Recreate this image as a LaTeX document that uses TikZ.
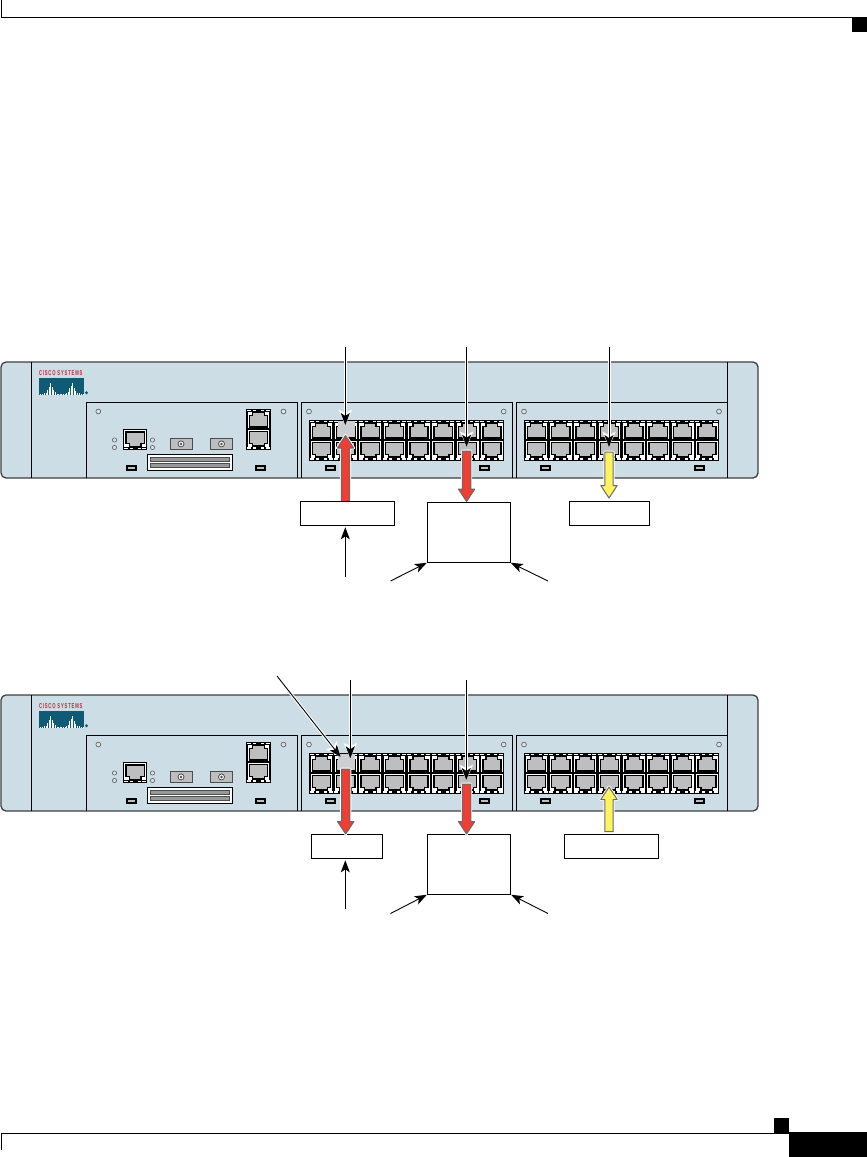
\documentclass[tikz,border=0pt]{standalone}
\usepackage{fontspec}
\usepackage{graphicx}
\setmainfont{Liberation Sans}
\usetikzlibrary{arrows.meta,calc}
\definecolor{devfill}{HTML}{CDDDE5}
\definecolor{portgray}{HTML}{BCBEC0}
\definecolor{portlight}{HTML}{CDCED2}
\definecolor{logoteal}{HTML}{0F5A75}
\definecolor{logored}{HTML}{B5283A}
\definecolor{redarrow}{HTML}{EF3E33}
\definecolor{yelarrow}{HTML}{FFF45F}
\definecolor{edgegray}{HTML}{6A6A6A}
\tikzset{
  devbody/.style={fill=devfill,draw=black!75,line width=1.3pt,rounded corners=5pt},
  modulebox/.style={draw=black,line width=1pt},
  hole/.style={draw=black!60,fill=devfill!80!white,line width=.7pt},
  lbox/.style={draw=black,fill=white,line width=1pt,inner sep=0pt,minimum height=24pt},
  thinarrow/.style={draw=black,line width=.9pt,-{Stealth[length=12pt,width=9pt,inset=3pt]}},
  halo/.style={thinarrow,preaction={draw=white,line width=3pt,-{Stealth[length=15pt,width=13pt,inset=3pt]}}},
  tag/.style={inner sep=0pt,text=logored,font=\fontsize{6.4}{6}\selectfont\bfseries\addfontfeatures{LetterSpace=20}}
}
% fat arrow from #1 to #2 in colour #3
\newcommand{\fatarr}[3]{%
  \coordinate (fb) at ($(#2)!12.5pt!(#1)$);
  \coordinate (sl) at ($(fb)!4.2pt!90:(#2)$);
  \coordinate (sr) at ($(fb)!4.2pt!-90:(#2)$);
  \coordinate (hl) at ($(fb)!8.2pt!90:(#2)$);
  \coordinate (hr) at ($(fb)!8.2pt!-90:(#2)$);
  \coordinate (tl) at ($(#1)!4.2pt!90:(#2)$);
  \coordinate (tr) at ($(#1)!4.2pt!-90:(#2)$);
  \draw[white,line width=2.8pt,line join=round] (tl)--(sl)--(hl)--(#2)--(hr)--(sr)--(tr)--cycle;
  \draw[edgegray,fill=#3,line width=1pt,line join=round] (tl)--(sl)--(hl)--(#2)--(hr)--(sr)--(tr)--cycle;
}
% one RJ45 cell, outer edge at the top of the local frame
\newcommand{\rjcell}{%
  \fill[white] (1.5,2.6) rectangle (23.4,19.4);
  \fill[white] (1,0.9) rectangle (5,2.2);
  \fill[white] (7.2,0.9) rectangle (10.2,2.2);
  \fill[white] (14.9,0.9) rectangle (17.9,2.2);
  \fill[white] (19.7,0.9) rectangle (23.7,2.2);
  \draw[black,line width=1.4pt,fill=portgray]
     (3.4,6.4)--(6.7,6.4)--(6.7,3.6)--(18.3,3.6)--(18.3,6.4)--(21.6,6.4)--(21.6,17.9)--(3.4,17.9)--cycle;
}
\newcommand{\bank}[2]{% x0, y0
  \fill[black] (#1,#2) rectangle ++(194.8,40.6);
  \foreach \i in {0,...,7}{
    \begin{scope}[shift={({#1+\i*24.35},#2)}]\rjcell\end{scope}
    \begin{scope}[shift={({#1+\i*24.35},{#2+40.6})},yscale=-1]\rjcell\end{scope}
  }
}
\newcommand{\indicator}[2]{%
  \fill[black] (#1,#2) rectangle ++(10.7,5.8);
  \fill[portgray] ({#1+1.8},{#2+1.6}) rectangle ++(7.1,2.6);
}
\newcommand{\bnc}[1]{%
  \draw[black!70,fill=portgray,line width=.8pt] (#1,438) rectangle ++(22,11.7);
  \draw[black!70,fill=white,line width=.8pt] ({#1+11},443.9) circle (3);
  \fill[black!70] ({#1+11},443.9) circle (1.4);
}
\newcommand{\device}[2]{% y offset, id
\begin{scope}[shift={(0,#1)}]
  \draw[devbody] (1,362) rectangle (758,478);
  \draw[modulebox] (31.3,362) -- (31.3,478);
  \draw[modulebox] (727.7,362) -- (727.7,478);
  \draw[modulebox] (86.3,478) |- (297.7,402.3) -- (297.7,478);
  \draw[modulebox] (301.3,478) |- (512.7,402.3) -- (512.7,478);
  \draw[modulebox] (516.3,478) |- (727.7,402.3);
  \foreach \p in {98.3,283.5,309,503.7,524,719} \draw[hole] (\p,411.5) circle (2.4);
  \foreach \p in {114.5,152.5} {\draw[hole] (\p,440) circle (2.1); \draw[hole] (\p,447.5) circle (2.1);}
  % logo
  \node[tag,anchor=west] (logo#2) at (38.8,372.8) {\scalebox{.65}[1.1]{CISCO SYSTEMS}};
  \fill[logoteal] (39,377.7) rectangle (84,395);
  \foreach \bx/\bh in {40.5/1,42/1.5,44/2,46/2,47.7/5,49.2/8,50.7/12,52.2/8,53.7/5,55.2/3,57/1.5,58.5/1.5,60/1,61.5/1.5,63.5/1,65/1.5,66.5/2,68/3,69.5/7,71/9,72.5/12,74/7,75.5/4,77/2,79/2,81/1,83/1}
    \fill[white] ({\bx-.5},395) rectangle ({\bx+.5},{395-\bh});
  \fill[logoteal] (86.5,392.7) circle (1.7);
  % module 1
  \fill[black] (122.6,429.2) rectangle (146.9,449.8);
  \begin{scope}[shift={(122.6,449.8)},yscale=-1]\rjcell\end{scope}
  \bnc{170}\bnc{210.5}
  \draw[black,fill=white,line width=1pt] (147.3,454.3) rectangle (232.7,470.7);
  \draw[black!70,fill=portgray!80!black,line width=.6pt] (150.3,457.5) rectangle (229.7,461.5);
  \draw[black!70,fill=portgray!80!black,line width=.6pt] (150.3,463.6) rectangle (229.7,467.6);
  \fill[black] (246,409) rectangle ++(24.6,40.6);
  \begin{scope}[shift={(246,409)}]\rjcell\end{scope}
  \begin{scope}[shift={(246,449.6)},yscale=-1]\rjcell\end{scope}
  \indicator{126}{465}\indicator{255}{465}
  \indicator{325}{465}\indicator{479.3}{465}
  \indicator{540}{465}\indicator{694.3}{465}
  \bank{309}{420}
  \bank{524}{420}
  % highlighted ports
  \fill[portlight] (337.5,421) rectangle (355,436.5);
\end{scope}}

\begin{document}
\begin{tikzpicture}[x=1pt,y=-1pt]
\useasboundingbox (0,0) rectangle (867,1157);
\fill[white] (0,0) rectangle (867,1157);
% page furniture
\draw[black,line width=1.2pt] (1.7,0) -- (1.7,17.3) -- (867,17.3);
\fill[black] (852,17) rectangle (867,32);
\draw[black,line width=1.2pt] (1.7,1150) -- (1.7,1133.3) -- (790,1133.3);
\fill[black] (774,1118) rectangle (789,1133.5);
\fill[black] (789,1131.7) rectangle (867,1156.7);

\device{0}{a}
\device{333}{b}

% ---- upper unit ----
\coordinate (aT1) at (345.3,347); \coordinate (aP1) at (345.3,425);
\coordinate (aT2) at (466.6,347); \coordinate (aP2) at (466.6,446.7);
\coordinate (aT3) at (609,347);   \coordinate (aP3) at (609,447);
\coordinate (aR1) at (345.5,435.5);
\coordinate (aR2t) at (466.6,451); \coordinate (aR2) at (466.6,501.5);
\coordinate (aYt) at (609,452);    \coordinate (aY) at (609,498);
\coordinate (aU) at (345.3,577);
\coordinate (aL) at (390.5,581);
\coordinate (aQ) at (548,581);

\coordinate (aR1t) at (345.5,503);
\fatarr{aR1t}{aR1}{redarrow}
\fatarr{aR2t}{aR2}{redarrow}
\fatarr{aYt}{aY}{yelarrow}
\node[lbox,minimum width=94.4pt,minimum height=23.6pt] (aB1) at (347.5,513.5) {};
\node[lbox,minimum width=83pt,minimum height=60pt] (aB2) at (468.8,532.3) {};
\node[lbox,minimum width=80pt,minimum height=23.6pt] (aB3) at (609.3,513.5) {};

\draw[halo] (aT1) -- (aP1);
\draw[halo] (aT2) -- (aP2);
\draw[halo] (aT3) -- (aP3);
\draw[thinarrow] (aU) -- ($(aB1.south -| aU)+(0,1.5)$);
\draw[thinarrow] (aL) -- (aB2.south west);
\draw[thinarrow] (aQ) -- (aB2.south east);

% ---- lower unit ----
\coordinate (bD) at (277,676);     \coordinate (bDp) at (340.7,757);
\coordinate (bT1) at (350.3,680);  \coordinate (bP1) at (350.3,758.3);
\coordinate (bT2) at (466.3,680);  \coordinate (bP2) at (466.3,780);
\coordinate (bR1t) at (345.7,769); \coordinate (bR1) at (345.7,834);
\coordinate (bR2t) at (466.6,784); \coordinate (bR2) at (466.6,834);
\coordinate (bYt) at (609,831.7);  \coordinate (bY) at (609,787);
\coordinate (bU) at (345.3,909);
\coordinate (bL) at (390.5,913.5);
\coordinate (bQ) at (548,913.5);

\node[lbox,minimum width=71.4pt,minimum height=24pt] (bB1) at (347,846.3) {};
\node[lbox,minimum width=83.4pt,minimum height=60pt] (bB2) at (469,864.3) {};
\node[lbox,minimum width=94.4pt,minimum height=24pt] (bB3) at (611.5,846.3) {};
\fatarr{bR1t}{bR1}{redarrow}
\fatarr{bR2t}{bR2}{redarrow}
\fatarr{bYt}{bY}{yelarrow}

\draw[halo] (bD) -- (bDp);
\draw[halo] (bT1) -- (bP1);
\draw[halo] (bT2) -- (bP2);
\draw[thinarrow] (bU) -- ($(bB1.south -| bU)+(0,1.5)$);
\draw[thinarrow] (bL) -- (bB2.south west);
\draw[thinarrow] (bQ) -- (bB2.south east);
\end{tikzpicture}
\end{document}
